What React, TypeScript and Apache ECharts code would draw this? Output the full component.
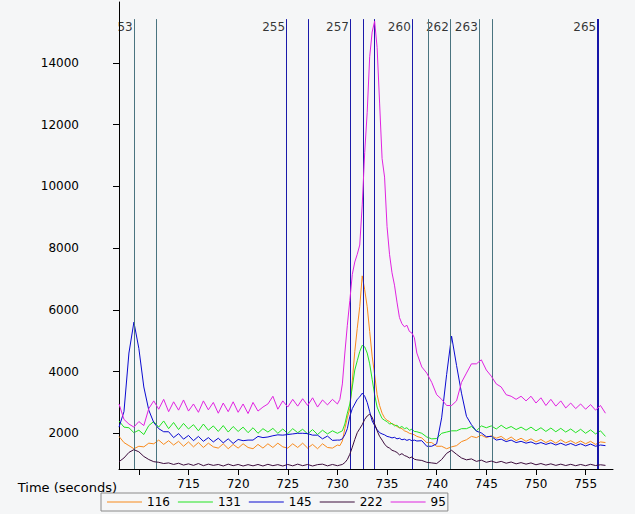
import React, { useEffect, useRef } from 'react';
import * as echarts from 'echarts';

// Time axis (seconds)
const TIME = [
  708, 708.5, 709, 709.5, 710, 710.5, 711, 711.5, 712, 712.5,
  713, 713.5, 714, 714.5, 715, 715.5, 716, 716.5, 717, 717.5,
  718, 718.5, 719, 719.5, 720, 720.5, 721, 721.5, 722, 722.5,
  723, 723.5, 724, 724.5, 725, 725.5, 726, 726.5, 727, 727.5,
  728, 728.5, 729, 729.5, 730,
  730.25, 730.5, 730.75, 731, 731.25, 731.5, 731.75, 732, 732.25, 732.5,
  732.75, 733, 733.25, 733.5, 733.75, 734, 734.25, 734.5, 734.75, 735,
  735.25, 735.5, 735.75, 736, 736.25, 736.5, 736.75, 737, 737.25, 737.5,
  737.75, 738,
  738.5, 739, 739.5, 740, 740.5, 741, 741.5, 742, 742.5, 743,
  743.5, 744, 744.5, 745, 745.5, 746, 746.5, 747, 747.5, 748,
  748.5, 749, 749.5, 750, 750.5, 751, 751.5, 752, 752.5, 753,
  753.5, 754, 754.5, 755, 755.5, 756, 756.5, 757,
];

const S116 = [
  1900, 1700, 1600, 1500, 1580, 1560, 1680, 1660, 1780, 1640,
  1760, 1620, 1740, 1580, 1720, 1560, 1700, 1540, 1680, 1560,
  1520, 1660, 1500, 1640, 1520, 1660, 1540, 1500, 1640, 1520,
  1660, 1540, 1680, 1560, 1520, 1660, 1540, 1680, 1520, 1640,
  1500, 1660, 1540, 1520, 1620,
  1600, 1750, 2150, 2500, 2800, 3700, 4650, 5400, 6100, 7100,
  6650, 6100, 5300, 4500, 3900, 3250, 2900, 2650, 2500, 2420,
  2380, 2300, 2280, 2220, 2180, 2150, 2080, 2050, 2000, 1980,
  1950, 1900,
  1850, 1700, 1700, 1580, 1580, 1500, 1560, 1600, 1730, 1790,
  1900, 1860, 1940, 1860, 1920, 1840, 1900, 1780, 1880, 1760,
  1840, 1740, 1820, 1720, 1800, 1700, 1780, 1680, 1790, 1690,
  1760, 1670, 1750, 1660, 1740, 1640, 1720, 1700,
];

const S131 = [
  2400, 2200, 2180, 2020, 2100, 1960, 2250, 2380, 2200, 2400,
  2150, 2350, 2120, 2320, 2140, 2280, 2080, 2300, 2100, 2240,
  2060, 2250, 2040, 2220, 2060, 2200, 2020, 2180, 2000, 2150,
  2040, 2160, 2000, 2140, 1990, 2150, 2020, 2130, 1980, 2120,
  1960, 2100, 1980, 2080, 2000,
  2040, 2080, 2300, 2650, 2950, 3500, 4050, 4350, 4650, 4850,
  4800, 4600, 4250, 3750, 3250, 2850, 2650, 2480, 2420, 2380,
  2300, 2320, 2240, 2260, 2180, 2220, 2150, 2180, 2100, 2130,
  2060, 2050,
  2000, 1880, 1820, 1830, 2000, 2040, 2080, 2080, 2150, 2150,
  2220, 2080, 2240, 2180, 2240, 2140, 2260, 2150, 2220, 2120,
  2200, 2100, 2200, 2080, 2180, 2060, 2170, 2050, 2160, 2040,
  2140, 2020, 2130, 2000, 2110, 1980, 2080, 1900,
];

const S145 = [
  2200, 2700, 4600, 5600, 4750, 3500, 2750, 2350, 2150, 2050,
  2050, 1860, 1990, 1810, 1930, 1760, 1900, 1740, 1860, 1720,
  1840, 1690, 1820, 1670, 1800, 1760, 1780, 1780, 1900, 1860,
  1880, 1920, 1950, 1940, 1960, 1980, 2000, 2000, 1990, 1940,
  1940, 1820, 1910, 1770, 1780,
  1780, 1820, 1950, 2150, 2550, 2800, 2950, 3100, 3180, 3300,
  3200, 3000, 2700, 2400, 2250, 2120, 2020, 1980, 1950, 1900,
  1880, 1850, 1870, 1820, 1840, 1790, 1810, 1770, 1800, 1760,
  1780, 1750,
  1760, 1580, 1580, 1660, 2500, 3900, 5150, 4200, 3300, 2550,
  2280, 2070, 2010, 1890, 1900, 1780, 1810, 1730, 1780, 1700,
  1740, 1680, 1720, 1650, 1700, 1640, 1690, 1620, 1680, 1610,
  1670, 1600, 1660, 1590, 1650, 1580, 1620, 1600,
];

const S222 = [
  1080, 1200, 1380, 1470, 1400, 1250, 1150, 1080, 1060, 1020,
  1040, 990, 1030, 970, 1010, 960, 1020, 950, 1000, 960,
  990, 940, 1000, 950, 990, 940, 985, 945, 990, 940,
  995, 950, 985, 940, 990, 945, 1000, 950, 990, 940,
  985, 1000, 945, 990, 950,
  970, 990, 1050, 1150, 1320, 1550, 1800, 2020, 2150, 2280,
  2450, 2560, 2620, 2520, 2300, 2080, 1900, 1780, 1650, 1560,
  1520, 1450, 1420, 1380, 1300, 1340, 1280, 1250, 1200, 1230,
  1160, 1140,
  1120, 1060, 1040, 1020, 1150, 1350, 1450, 1320, 1200, 1140,
  1170, 1090, 1130, 1060, 1100, 1050, 1090, 1030, 1070, 1010,
  1050, 1000, 1040, 980, 1020, 970, 1010, 960, 1000, 955,
  995, 950, 990, 950, 995, 955, 980, 960,
];

const S95 = [
  2950, 2450, 2300, 2200, 2380, 2250, 2800, 3050, 2780, 3100,
  2700, 3020, 2750, 3080, 2720, 2950, 2680, 3050, 2760, 3000,
  2650, 2980, 2700, 3020, 2680, 2950, 2640, 3000, 2720, 2850,
  2950, 3200, 2780, 3050, 2850, 3100, 2880, 3120, 2900, 3150,
  2850, 3080, 2920, 3100, 2950,
  3100, 3600, 4600, 5500, 6300, 7150, 7550, 7800, 8100, 9400,
  11100, 12400, 14200, 15000, 15350, 14500, 12700, 10900, 10300, 8700,
  7800, 7200, 6800, 6250, 5750, 5550, 5450, 5500, 5300, 5250,
  5100, 4600,
  4150, 3950, 3650, 3250, 3100, 2900, 2900, 3050, 3650, 3950,
  4250, 4250, 4380, 4050, 3850, 3600, 3500, 3250, 3200, 3100,
  3200, 3050, 3200, 2980, 3150, 2900, 3100, 2880, 3050, 2820,
  2980, 2800, 2950, 2780, 2930, 2750, 2900, 2650,
];

const SERIES_NAMES = ['116', '131', '145', '222', '95'];
const SERIES_VALUES = [S116, S131, S145, S222, S95];
const SERIES_COLORS = ['#F88A1C', '#22E322', '#0A0AD0', '#3C0C3C', '#E022E0'];

// Vertical marker lines (time in seconds) and their labels
const MARK_TIMES = [709.53, 711.74, 724.88, 727.06, 731.31, 732.6, 733.71, 737.54, 739.19, 741.37, 744.29, 745.6, 756.22];
const MARK_LABELS = ['253', '', '255', '', '257', '', '', '260', '', '262', '263', '', '265'];
const MARK_KINDS = ['teal', 'teal', 'blue', 'blue', 'blue', 'blue', 'blue', 'blue', 'teal', 'teal', 'teal', 'teal', 'thick'];

const Y_TICKS = [2000, 4000, 6000, 8000, 10000, 12000, 14000];
const X_TICKS = [710, 715, 720, 725, 730, 735, 740, 745, 750, 755];
const X_LABELS = [715, 720, 725, 730, 735, 740, 745, 750, 755];

const X_MIN = 708;
const X_MAX = 757.76;
const Y_MIN = 843;
const Y_MAX = 15974;
const LINE_TOP = 15420;
const LABEL_Y = 15160;

const BG = '#F5F6F7';
const FONT = '"DejaVu Sans", Verdana, sans-serif';

export default function App() {
  const ref = useRef<HTMLDivElement>(null);

  useEffect(() => {
    document.body.style.margin = '0';
    document.body.style.background = BG;
    const chart = echarts.init(ref.current as HTMLDivElement, null, { renderer: 'svg' });

    const kindStyle = (k: string) =>
      k === 'teal'
        ? { color: '#4A7480', width: 1, type: 'solid' }
        : k === 'thick'
        ? { color: '#1616A8', width: 2, type: 'solid' }
        : { color: '#1A1AAA', width: 1, type: 'solid' };

    const markerSeries: any = {
      type: 'scatter',
      name: 'markers',
      z: 1,
      silent: true,
      symbolSize: 1,
      itemStyle: { color: 'rgba(0,0,0,0)' },
      emphasis: { disabled: true },
      label: {
        show: true,
        position: 'left',
        distance: 1,
        color: '#000',
        fontSize: 12,
        fontFamily: FONT,
        formatter: (p: any) => p.data.name,
      },
      data: MARK_TIMES.map((t, i) => ({ name: MARK_LABELS[i], value: [t, LABEL_Y] })).filter(
        (d) => d.name !== ''
      ),
      markLine: {
        silent: true,
        symbol: ['none', 'none'],
        label: { show: false },
        emphasis: { disabled: true },
        data: MARK_TIMES.map((t, i) => [
          { coord: [t, Y_MIN], lineStyle: kindStyle(MARK_KINDS[i]) },
          { coord: [t, LINE_TOP] },
        ]),
      },
    };

    const lineSeries = SERIES_NAMES.map((name, si) => ({
      type: 'line',
      name,
      z: 2 + si,
      symbol: 'none',
      showSymbol: false,
      color: SERIES_COLORS[si],
      lineStyle: { width: 1, color: SERIES_COLORS[si] },
      emphasis: { disabled: true },
      data: TIME.map((t, i) => [t, SERIES_VALUES[si][i]]),
    }));

    const option: any = {
      animation: false,
      backgroundColor: BG,
      grid: { left: 119, right: 22, top: 2, bottom: 45, containLabel: false, outerBoundsMode: 'none' },
      xAxis: {
        type: 'value',
        min: X_MIN,
        max: X_MAX,
        splitLine: { show: false },
        axisLine: { show: true, onZero: false, lineStyle: { color: '#000', width: 1 } },
        axisTick: { show: true, length: 6, lineStyle: { color: '#000' }, customValues: X_TICKS },
        axisLabel: {
          color: '#000',
          fontSize: 12,
          fontFamily: FONT,
          margin: 9,
          customValues: X_LABELS,
          formatter: (v: number) => String(v),
        },
      },
      yAxis: {
        type: 'value',
        min: Y_MIN,
        max: Y_MAX,
        splitLine: { show: false },
        axisLine: { show: true, onZero: false, lineStyle: { color: '#000', width: 1 } },
        axisTick: { show: true, length: 6, lineStyle: { color: '#000' }, customValues: Y_TICKS },
        axisLabel: {
          color: '#000',
          fontSize: 12,
          fontFamily: FONT,
          margin: 40,
          customValues: Y_TICKS,
          formatter: (v: number) => String(v),
        },
      },
      legend: {
        data: SERIES_NAMES,
        left: 101,
        top: 493,
        orient: 'horizontal',
        icon: 'path://M0,0L35,0L35,1L0,1Z',
        symbolKeepAspect: true,
        itemWidth: 35,
        itemHeight: 14,
        itemGap: 8,
        padding: [3, 2, 3, 6],
        borderColor: '#8A8A8A',
        borderWidth: 1,
        selectedMode: false,
        textStyle: { color: '#000', fontSize: 12, fontFamily: FONT, width: 38 },
      },
      graphic: [
        {
          type: 'rect',
          z: 100,
          silent: true,
          shape: { x: 96, y: 16, width: 22, height: 22 },
          style: { fill: BG },
        },
        {
          type: 'text',
          z: 100,
          silent: true,
          x: 117,
          y: 487,
          style: {
            text: 'Time (seconds)',
            fill: '#000',
            font: '13px ' + FONT,
            align: 'right',
            verticalAlign: 'middle',
            textAlign: 'right',
            textVerticalAlign: 'middle',
          },
        },
      ],
      series: [markerSeries, ...lineSeries],
    };

    chart.setOption(option);
    return () => chart.dispose();
  }, []);

  return <div ref={ref} style={{ width: 635, height: 514 }} />;
}
